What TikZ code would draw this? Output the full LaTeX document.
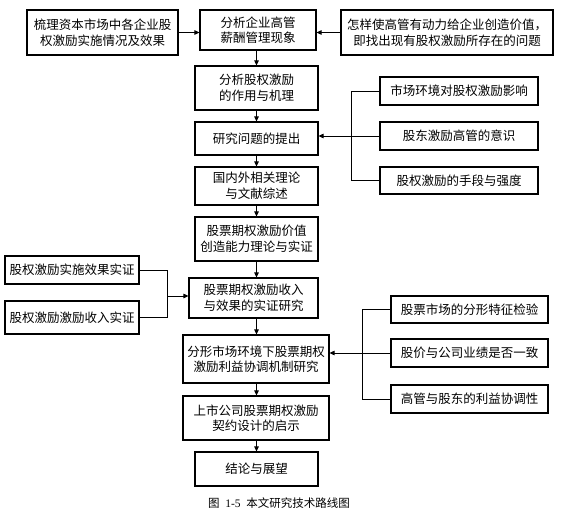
\documentclass[tikz,border=0pt]{standalone}
\usepackage{fontspec}
\setmainfont{Liberation Serif}
\newfontfamily\cjk{Noto Sans CJK SC}
\usetikzlibrary{arrows.meta}
\tikzset{
  box/.style={draw, line width=1.1pt, inner sep=0pt, align=center,
    font=\cjk\fontsize{12.5}{15.5}\selectfont},
  conn/.style={line width=0.8pt},
  arr/.style={line width=0.9pt, -{Triangle[length=5pt,width=4.5pt]}}
}
\begin{document}
\begin{tikzpicture}[x=1pt,y=-1pt]
\useasboundingbox (0,0) rectangle (561,516);
% top row
\node[box, minimum width=151, minimum height=45] (A) at (102.5,32.5) {梳理资本市场中各企业股\\权激励实施情况及效果};
\node[box, minimum width=116, minimum height=40] (B) at (258,30) {分析企业高管\\薪酬管理现象};
\node[box, minimum width=212, minimum height=45] (C) at (447,32.5) {怎样使高管有动力给企业创造价值，\\即找出现有股权激励所存在的问题};
% main column
\node[box, minimum width=123, minimum height=44] (D) at (256.5,88) {分析股权激励\\的作用与机理};
\node[box, minimum width=123, minimum height=33] (F) at (256.5,138.5) {研究问题的提出};
\node[box, minimum width=123, minimum height=38] (I) at (256.5,186) {国内外相关理论\\与文献综述};
\node[box, minimum width=123, minimum height=44] (J) at (256.5,239) {股票期权激励价值\\创造能力理论与实证};
\node[box, minimum width=129, minimum height=40] (M) at (253.5,298) {股票期权激励收入\\与效果的实证研究};
\node[box, minimum width=146, minimum height=48] (N) at (256,359) {分形市场环境下股票期权\\激励利益协调机制研究};
\node[box, minimum width=146, minimum height=44] (O) at (256,418) {上市公司股票期权激励\\契约设计的启示};
\node[box, minimum width=123, minimum height=34] (Q) at (256.5,469) {结论与展望};
% right group 1
\node[box, minimum width=158, minimum height=28] (E) at (459,91) {市场环境对股权激励影响};
\node[box, minimum width=158, minimum height=28] (G) at (459,136) {股东激励高管的意识};
\node[box, minimum width=158, minimum height=27] (H) at (459,180.5) {股权激励的手段与强度};
% left group
\node[box, minimum width=134, minimum height=28] (K) at (72,270) {股权激励实施效果实证};
\node[box, minimum width=134, minimum height=33] (L) at (72,317.5) {股权激励激励收入实证};
% right group 2
\node[box, minimum width=157, minimum height=27] (P) at (469.5,309.5) {股票市场的分形特征检验};
\node[box, minimum width=157, minimum height=28] (R) at (469.5,353) {股价与公司业绩是否一致};
\node[box, minimum width=157, minimum height=28] (S) at (469.5,399) {高管与股东的利益协调性};
% caption
\node[inner sep=0pt, font=\cjk\fontsize{11.5}{13}\selectfont] (cap) at (279,503) {图\hspace{0.5em}{\rmfamily 1-5}\hspace{0.5em}本文研究技术路线图};
% top arrows
\draw[arr] (A.east) -- (A.east -| B.west);
\draw[arr] (C.west) -- (C.west -| B.east);
% main column arrows
\draw[arr] (D.north |- B.south) -- (D.north);
\draw[arr] (D.south) -- (F.north);
\draw[arr] (F.south) -- (I.north);
\draw[arr] (I.south) -- (J.north);
\draw[arr] (J.south) -- (J.south |- M.north);
\draw[arr] (J.south |- M.south) -- (J.south |- N.north);
\draw[arr] (J.south |- N.south) -- (J.south |- O.north);
\draw[arr] (J.south |- O.south) -- (Q.north);
% right bracket 1
\draw[conn] (E.west) -- ++(-28,0) |- (H.west);
\draw[arr] (G.west) -- (G.west -| F.east);
% left bracket
\coordinate (lb) at (167,296);
\draw[conn] (K.east) -| (lb);
\draw[conn] (L.east) -| (lb);
\draw[arr] (lb) -- (lb -| M.west);
% right bracket 2
\draw[conn] (P.west) -- ++(-28,0) |- (S.west);
\draw[arr] (R.west) -- (R.west -| N.east);
\end{tikzpicture}
\end{document}
